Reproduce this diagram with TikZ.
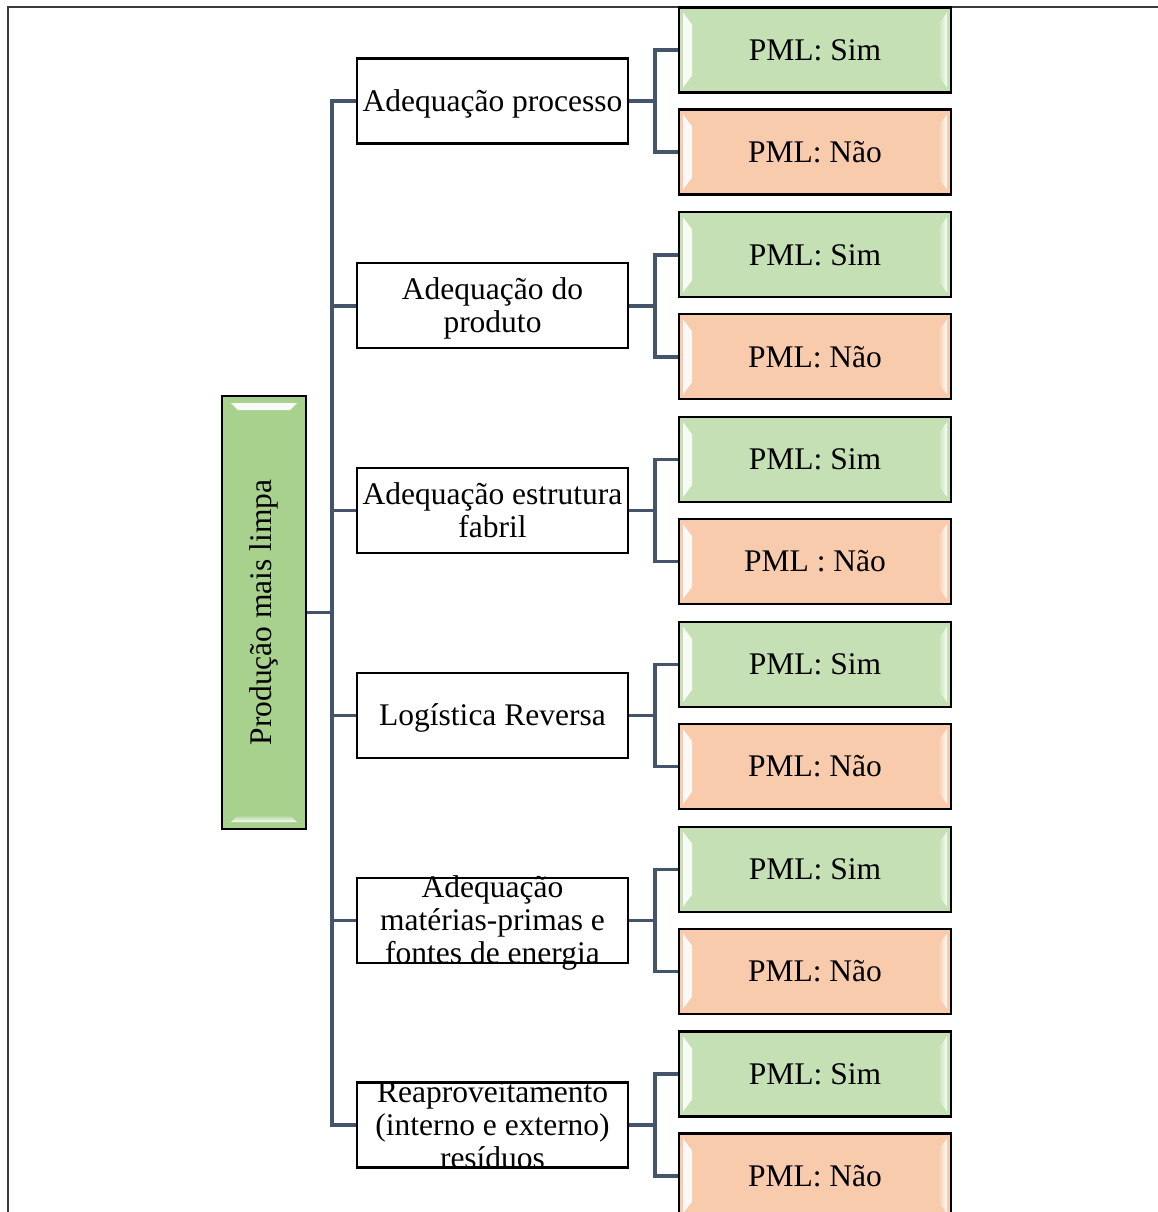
\documentclass[tikz,border=0pt]{standalone}
\usepackage{fontspec}
\setmainfont{Liberation Serif}
\definecolor{rootgreen}{HTML}{A9D18E}
\definecolor{simgreen}{HTML}{C5E0B4}
\definecolor{naoorange}{HTML}{F8CBAD}
\definecolor{linkslate}{HTML}{44546A}
\definecolor{framegray}{HTML}{3A3A3A}
\tikzset{
  % bevelled highlights on the left and right sides of a box
  bevlr/.style={path picture={
    \shade[left color=white, right color=#1, opacity=.9]
      ([shift={(4pt,-5pt)}]path picture bounding box.north west) --
      ([shift={(13pt,-17pt)}]path picture bounding box.north west) --
      ([shift={(13pt,17pt)}]path picture bounding box.south west) --
      ([shift={(4pt,5pt)}]path picture bounding box.south west) -- cycle;
    \shade[left color=#1, right color=white, opacity=.9]
      ([shift={(-4pt,-5pt)}]path picture bounding box.north east) --
      ([shift={(-13pt,-17pt)}]path picture bounding box.north east) --
      ([shift={(-13pt,17pt)}]path picture bounding box.south east) --
      ([shift={(-4pt,5pt)}]path picture bounding box.south east) -- cycle;
  }},
  % bevelled highlights on the top and bottom of a box
  bevtb/.style={path picture={
    \shade[top color=white, bottom color=#1, opacity=.95]
      ([shift={(9pt,-7pt)}]path picture bounding box.north west) --
      ([shift={(-9pt,-7pt)}]path picture bounding box.north east) --
      ([shift={(-16pt,-14pt)}]path picture bounding box.north east) --
      ([shift={(16pt,-14pt)}]path picture bounding box.north west) -- cycle;
    \shade[bottom color=white, top color=#1, opacity=.95]
      ([shift={(9pt,7pt)}]path picture bounding box.south west) --
      ([shift={(-9pt,7pt)}]path picture bounding box.south east) --
      ([shift={(-16pt,14pt)}]path picture bounding box.south east) --
      ([shift={(16pt,14pt)}]path picture bounding box.south west) -- cycle;
  }},
  txt/.style={font=\fontsize{31.5}{33}\selectfont, align=center, inner sep=0pt},
  rootbox/.style={draw=black, line width=2.2pt, fill=rootgreen, bevtb=rootgreen,
    minimum width=84, minimum height=433, inner sep=0pt},
  midbox/.style={draw=black, line width=2.2pt, fill=white,
    minimum width=271, minimum height=85, inner sep=0pt},
  midlabel/.style={txt, yshift=-3pt},
  midlabelhi/.style={txt},
  leafbox/.style={draw=black, line width=2.2pt, minimum width=272, minimum height=85,
    inner sep=0pt, txt},
  simbox/.style={leafbox, fill=simgreen, bevlr=simgreen},
  naobox/.style={leafbox, fill=naoorange, bevlr=naoorange},
  link/.style={draw=linkslate, line width=3.4pt},
  framerule/.style={draw=framegray, line width=2pt}
}
\begin{document}
\begin{tikzpicture}[x=1pt, y=-1pt]
\useasboundingbox (0,0) rectangle (1158,1212);

% page frame
\draw[framerule] (1158,7) -- (8,7) -- (8,1212);

% root
\node[rootbox] (root) at (264,612.5) {};
\node[txt, rotate=90] (roottext) at (root.center) {Produção mais limpa};

% second level
\node[midbox, label={[midlabel]center:Adequação processo}] (m1) at (492.5,101) {};
\node[midbox, label={[midlabel]center:Adequação do\\produto}] (m2) at (492.5,305.8) {};
\node[midbox, label={[midlabelhi]center:Adequação estrutura\\fabril}] (m3) at (492.5,510.6) {};
\node[midbox, label={[midlabel]center:Logística Reversa}] (m4) at (492.5,715.4) {};
\node[midbox, label={[midlabel]center:Adequação\\matérias-primas e\\fontes de energia}] (m5) at (492.5,920.2) {};
\node[midbox, label={[midlabelhi]center:Reaproveitamento\\(interno e externo)\\resíduos}] (m6) at (492.5,1125) {};

% leaves
\foreach \i/\y in {1/101,2/305.8,3/510.6,4/715.4,5/920.2,6/1125}{
  \node[simbox] (s\i) at (815,\y-51) {PML: Sim};
}
\foreach \i/\y/\t in {1/101/{PML: Não},2/305.8/{PML: Não},3/510.6/{PML : Não},
                      4/715.4/{PML: Não},5/920.2/{PML: Não},6/1125/{PML: Não}}{
  \node[naobox] (n\i) at (815,\y+51) {\t};
}

% connectors root -> second level
\coordinate (trunk) at ([xshift=25pt]root.east);
\draw[link] (root.east) -- (trunk);
\foreach \i in {1,...,6}{
  \draw[link] (trunk) |- (m\i.west);
}

% connectors second level -> leaves
\foreach \i in {1,...,6}{
  \coordinate (j\i) at ([xshift=26pt]m\i.east);
  \draw[link] (m\i.east) -- (j\i);
  \draw[link] (j\i) |- (s\i.west);
  \draw[link] (j\i) |- (n\i.west);
}
\end{tikzpicture}
\end{document}
